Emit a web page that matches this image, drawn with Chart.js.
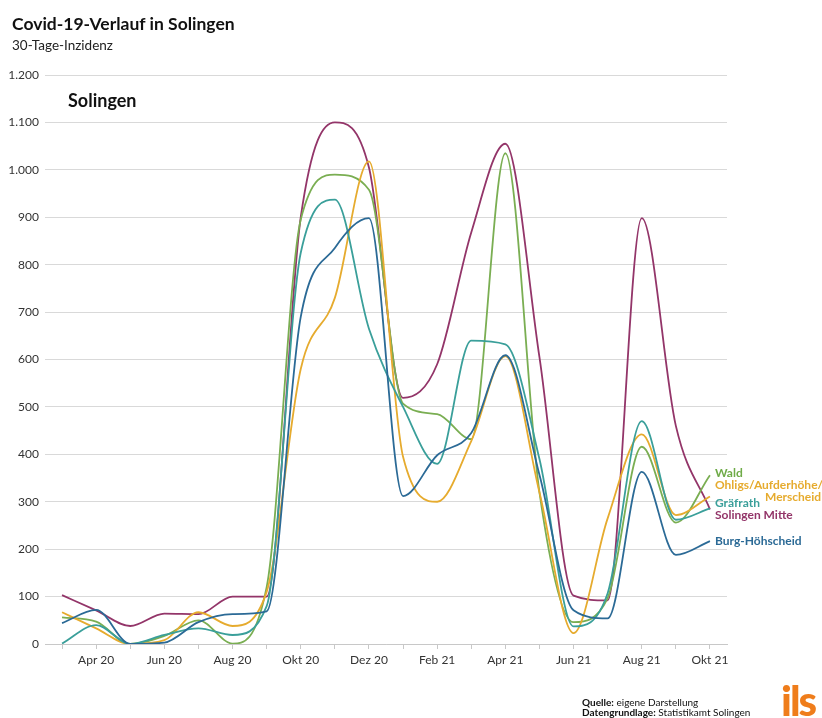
<!DOCTYPE html>
<html lang="de">
<head>
<meta charset="utf-8">
<title>Covid-19-Verlauf in Solingen</title>
<script src="https://cdn.jsdelivr.net/npm/chart.js@4/dist/chart.umd.min.js"></script>
<style>
  body { margin: 0; background: #fff; font-family: Lato, "Noto Sans", sans-serif; color: #111; }
  #wrap { position: relative; width: 822px; height: 718px; overflow: hidden; }
  #chart { position: absolute; left: 0; top: 0; }
  .txt { position: absolute; white-space: nowrap; }
  #title { left: 12px; top: 13px; font-size: 17.5px; font-weight: 700; }
  #subtitle { left: 12px; top: 37px; font-size: 13.5px; color: #222; }
  #region { left: 68px; top: 89px; font-size: 18px; font-weight: 700; }
  .end { font-size: 12px; font-weight: 700; line-height: 12px; }
  #source { left: 582px; top: 697px; font-size: 10px; line-height: 10px; color: #111; }
  #logo { left: 781px; top: 675px; font-size: 42px; font-weight: 900; color: #ef7d1b; letter-spacing: -2px; }
</style>
</head>
<body>
<div id="wrap">
  <canvas id="chart" width="822" height="718"></canvas>
  <div class="txt" id="title">Covid-19-Verlauf in Solingen</div>
  <div class="txt" id="subtitle">30-Tage-Inzidenz</div>
  <div class="txt" id="region">Solingen</div>
  <div class="txt end" style="left:715px;top:467px;color:#6fab48">Wald</div>
  <div class="txt end" style="left:715px;top:479px;color:#e6ab2e">Ohligs/Aufderhöhe/</div>
  <div class="txt end" style="left:765px;top:491px;color:#e6ab2e">Merscheid</div>
  <div class="txt end" style="left:715px;top:497px;color:#3a9f9a">Gräfrath</div>
  <div class="txt end" style="left:715px;top:509px;color:#933569">Solingen Mitte</div>
  <div class="txt end" style="left:715px;top:535px;color:#2b6a96">Burg-Höhscheid</div>
  <div class="txt" id="source"><b>Quelle:</b> eigene Darstellung<br><b>Datengrundlage:</b> Statistikamt Solingen</div>
  <div class="txt" id="logo">ils</div>
</div>
<script>
// Monatswerte der 30-Tage-Inzidenz
const months = ['Mär 20', 'Apr 20', 'Mai 20', 'Jun 20', 'Jul 20', 'Aug 20', 'Sep 20', 'Okt 20', 'Nov 20', 'Dez 20',
                'Jan 21', 'Feb 21', 'Mär 21', 'Apr 21', 'Mai 21', 'Jun 21', 'Jul 21', 'Aug 21', 'Sep 21', 'Okt 21'];

const wald      = [56, 47, 0, 17, 50, 1, 120, 895, 990, 958, 507, 485, 432, 1035, 320, 46, 97, 416, 256, 356];
const ohligs    = [67, 33, 0, 8, 67, 38, 110, 580, 730, 1018, 395, 300, 428, 607, 320, 23, 265, 442, 272, 311];
const graefrath = [1, 40, 0, 19, 33, 19, 80, 825, 937, 665, 500, 380, 640, 632, 390, 37, 107, 470, 262, 286];
const mitte     = [103, 71, 38, 64, 63, 100, 100, 900, 1100, 1005, 519, 590, 868, 1055, 605, 102, 92, 898, 460, 284];
const burg      = [44, 72, 0, 3, 46, 63, 69, 690, 835, 898, 312, 398, 445, 609, 357, 71, 54, 363, 188, 217];

const yTicks = [0, 100, 200, 300, 400, 500, 600, 700, 800, 900, 1000, 1100, 1200];

function line(label, data, color) {
    return {
        label: label,
        data: data,
        borderColor: color,
        borderWidth: 1.8,
        pointRadius: 0,
        pointHoverRadius: 0,
        fill: false,
        cubicInterpolationMode: 'monotone'
    };
}

// Tausenderpunkt wie im Original
function fmt(v) {
    return String(v).replace(/\B(?=(\d{3})+(?!\d))/g, '.');
}

const ctx = document.getElementById('chart').getContext('2d');
new Chart(ctx, {
    type: 'line',
    data: {
        labels: months,
        datasets: [
            line('Burg-Höhscheid', burg, '#2b6a96'),
            line('Gräfrath', graefrath, '#3a9f9a'),
            line('Ohligs/Aufderhöhe/Merscheid', ohligs, '#e6ab2e'),
            line('Wald', wald, '#7aae52'),
            line('Solingen Mitte', mitte, '#933569')
        ]
    },
    options: {
        responsive: false,
        animation: false,
        layout: { padding: { left: 0, top: 75, right: 95, bottom: 44 } },
        plugins: {
            legend: { display: false },
            tooltip: { enabled: false }
        },
        scales: {
            x: {
                offset: true,
                grid: { offset: false, drawOnChartArea: false, drawTicks: true, tickLength: 5, color: '#c8c8c8' },
                border: { color: '#c8c8c8' },
                ticks: {
                    autoSkip: false,
                    maxRotation: 0,
                    padding: 4,
                    color: '#333',
                    font: { family: 'Lato', size: 12 },
                    callback: (v, i) => (i % 2 === 1 ? months[i] : '')
                },
                afterFit: (scale) => { scale.height = 30; }
            },
            y: {
                min: 0,
                max: 1200,
                afterBuildTicks: (scale) => { scale.ticks = yTicks.map(v => ({ value: v })); },
                grid: { drawTicks: false, color: '#d9d9d9' },
                border: { display: false },
                ticks: {
                    padding: 6,
                    color: '#333',
                    font: { family: 'Lato', size: 12 },
                    callback: (v) => fmt(v)
                },
                afterFit: (scale) => { scale.width = 45; }
            }
        }
    }
});
</script>
</body>
</html>
